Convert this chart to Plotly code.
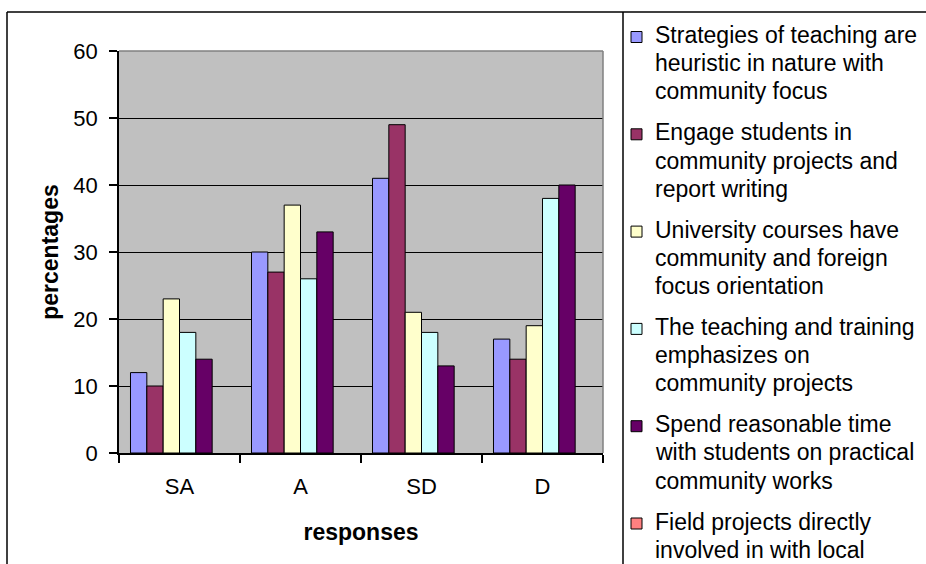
import plotly.graph_objects as go

# Survey responses (percentages) per statement
categories = ["SA", "A", "SD", "D"]

strategies_heuristic = [12, 30, 41, 17]
engage_students = [10, 27, 49, 14]
university_courses = [23, 37, 21, 19]
teaching_training = [18, 26, 18, 38]
reasonable_time = [14, 33, 13, 40]
field_projects = [None, None, None, None]

series_values = [
    strategies_heuristic,
    engage_students,
    university_courses,
    teaching_training,
    reasonable_time,
    field_projects,
]

# Legend labels, already wrapped into lines
legend_lines = [
    ["Strategies of teaching are", "heuristic in nature with", "community focus"],
    ["Engage students in", "community projects and", "report writing"],
    ["University courses have", "community and foreign", "focus orientation"],
    ["The teaching and training", "emphasizes on", "community projects"],
    ["Spend reasonable time", "with students on practical", "community works"],
    ["Field projects directly", "involved in with local"],
]

y_ticks = [0, 10, 20, 30, 40, 50, 60]

colors = ["#9999FF", "#993366", "#FFFFCC", "#CCFFFF", "#660066", "#FF8080"]

FONT = "Liberation Sans, Arial, sans-serif"
W, H = 926, 564
PLOT_L, PLOT_R, PLOT_T, PLOT_B = 119, 603, 51, 453


def px_x(px):
    return (px - PLOT_L) / (PLOT_R - PLOT_L)


def px_y(py):
    return (PLOT_B - py) / (PLOT_B - PLOT_T)


fig = go.Figure()
for lines, vals, col in zip(legend_lines, series_values, colors):
    fig.add_trace(go.Bar(
        x=categories,
        y=vals,
        name=" ".join(lines),
        marker=dict(color=col, line=dict(color="black", width=1)),
        showlegend=False,
    ))

shapes = []
annotations = []

# Hand-built legend on the right
LEG_SW_X0, LEG_SW_X1 = 631, 642
LEG_TEXT_X = 653
LEG_FIRST, LEG_PITCH, LEG_LINE = 35, 97.3, 28.2
for i, (lines, col) in enumerate(zip(legend_lines, colors)):
    top = LEG_FIRST + LEG_PITCH * i
    shapes.append(dict(
        type="rect", xref="paper", yref="paper",
        x0=px_x(LEG_SW_X0), x1=px_x(LEG_SW_X1),
        y0=px_y(top + 7.5), y1=px_y(top - 3.5),
        fillcolor=col, line=dict(color="black", width=1),
    ))
    for j, line in enumerate(lines):
        annotations.append(dict(
            text=line, xref="paper", yref="paper",
            x=px_x(LEG_TEXT_X), y=px_y(top + LEG_LINE * j),
            xanchor="left", yanchor="middle", showarrow=False,
            font=dict(family=FONT, size=23, color="black"),
        ))

# Outer frame and legend separator
frame = dict(color="black", width=1.5)
shapes += [
    dict(type="line", xref="paper", yref="paper",
         x0=px_x(7), x1=px_x(7), y0=px_y(12), y1=px_y(600), line=frame),
    dict(type="line", xref="paper", yref="paper",
         x0=px_x(7), x1=px_x(940), y0=px_y(12), y1=px_y(12), line=frame),
    dict(type="line", xref="paper", yref="paper",
         x0=px_x(623), x1=px_x(623), y0=px_y(12), y1=px_y(600), line=frame),
]

# Grey top and right edge of the plot area
grey = dict(color="#808080", width=1.5)
shapes += [
    dict(type="line", xref="paper", yref="paper", x0=0, x1=1, y0=1, y1=1,
         line=grey, layer="above"),
    dict(type="line", xref="paper", yref="paper", x0=1, x1=1, y0=0, y1=1,
         line=grey, layer="above"),
]

fig.update_layout(
    width=W, height=H,
    margin=dict(l=PLOT_L, r=W - PLOT_R, t=PLOT_T, b=H - PLOT_B, autoexpand=False),
    paper_bgcolor="white",
    plot_bgcolor="#C0C0C0",
    barmode="group",
    bargap=0.19,
    bargroupgap=0,
    font=dict(family=FONT, color="black"),
    shapes=shapes,
    annotations=annotations,
    xaxis=dict(
        type="category",
        categoryorder="array", categoryarray=categories,
        tickson="boundaries",
        ticks="outside", ticklen=8, tickwidth=1.5, tickcolor="black",
        showline=True, linecolor="black", linewidth=1.5,
        showgrid=False, zeroline=False,
        tickfont=dict(family=FONT, size=22, color="black"),
        ticklabelstandoff=13,
        title=dict(text="<b>responses</b>", standoff=26,
                   font=dict(family=FONT, size=23, color="black")),
    ),
    yaxis=dict(
        range=[0, 60],
        tickvals=y_ticks,
        ticks="outside", ticklen=8, tickwidth=1.5, tickcolor="black",
        showline=True, linecolor="black", linewidth=1.5,
        showgrid=True, gridcolor="black", gridwidth=1,
        zeroline=False,
        tickfont=dict(family=FONT, size=22, color="black"),
        ticklabelstandoff=7,
        title=dict(text="<b>percentages</b>", standoff=8,
                   font=dict(family=FONT, size=23, color="black")),
    ),
)

fig.write_html("out.html")
